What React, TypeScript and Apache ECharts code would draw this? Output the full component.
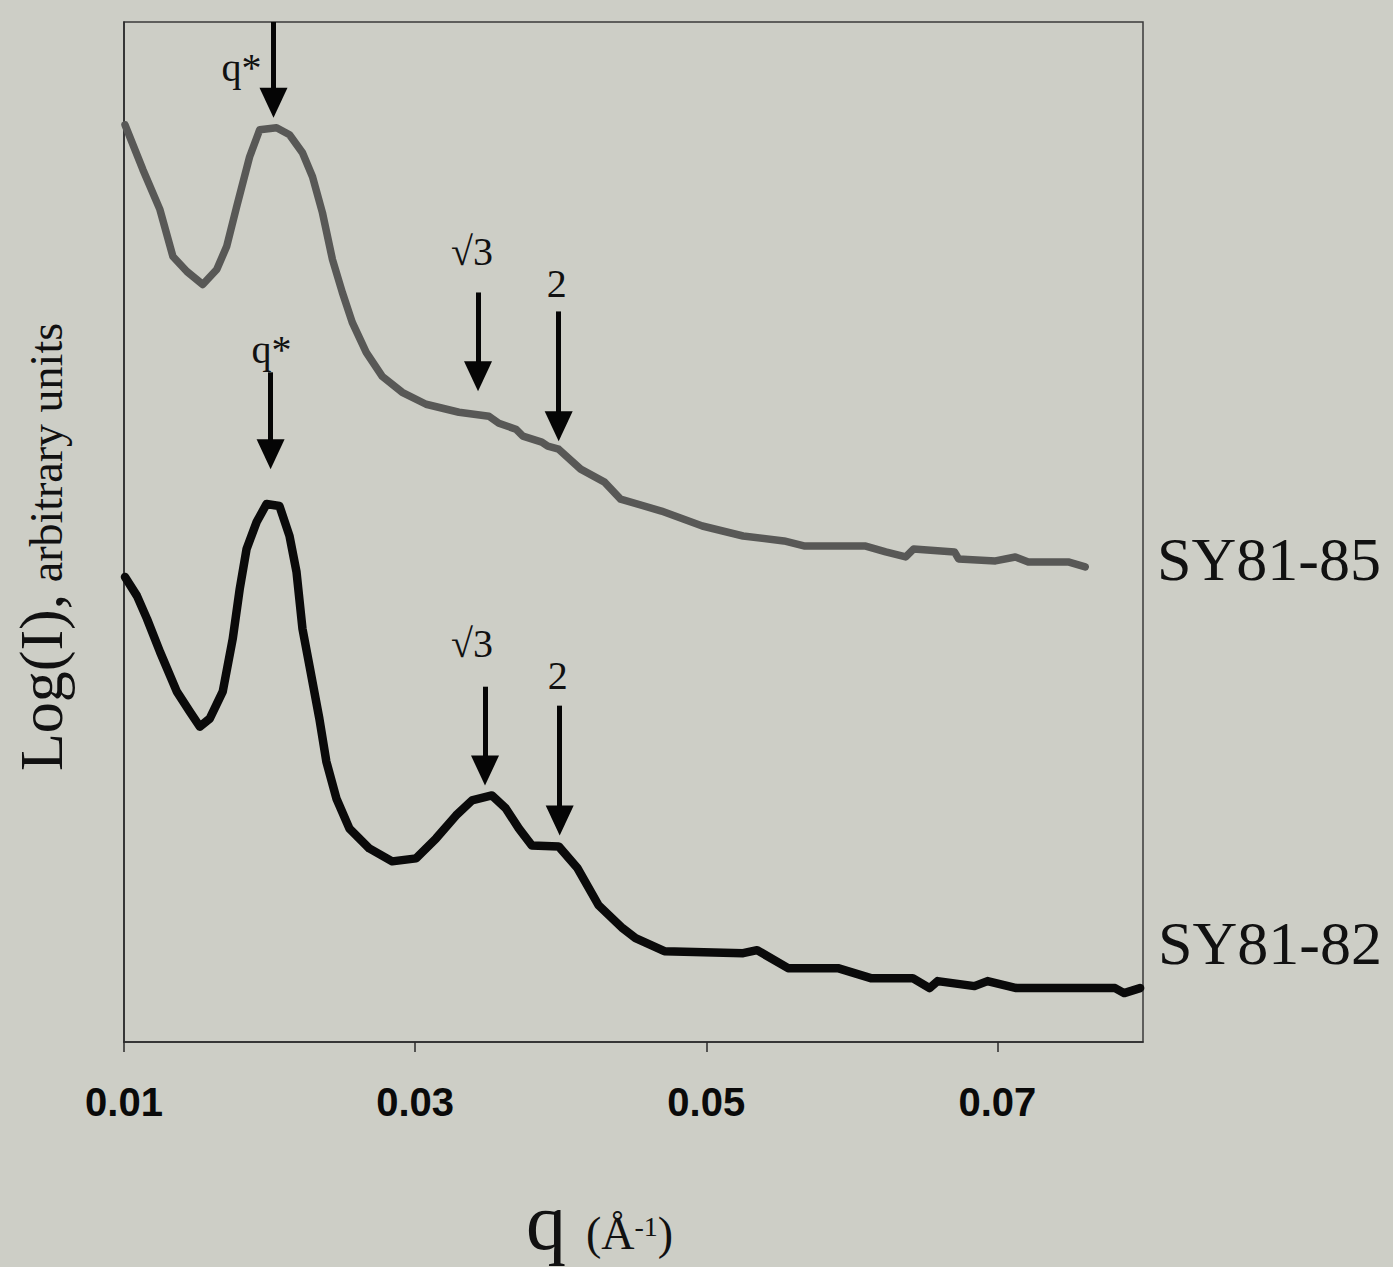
import React, { useEffect, useRef } from "react";
import * as echarts from "echarts";

// ---------- data (q in 1/Å, intensity in arbitrary log units) ----------
const qTickLabels = ["0.01", "0.03", "0.05", "0.07"];

const sy8185Q = [0.01007, 0.0113, 0.01247, 0.01336, 0.01432, 0.01541, 0.01637, 0.01705, 0.01774, 0.01863, 0.01932, 0.02048, 0.02137, 0.02226, 0.02295, 0.02363, 0.02432, 0.025, 0.02568, 0.02664, 0.02774, 0.02911, 0.03075, 0.03301, 0.03507, 0.03575, 0.03692, 0.0374, 0.0387, 0.03911, 0.03986, 0.04137, 0.04301, 0.04411, 0.04692, 0.04973, 0.05253, 0.05534, 0.05671, 0.06089, 0.06233, 0.0637, 0.06425, 0.06705, 0.06733, 0.06986, 0.07123, 0.07212, 0.07486, 0.07603];
const sy8185I = [91.9, 87.4, 83.4, 78.7, 77.2, 75.9, 77.4, 79.7, 83.7, 88.7, 91.4, 91.6, 90.9, 89.1, 86.7, 83.1, 78.4, 75.1, 72.1, 69.1, 66.7, 65.1, 63.9, 63.1, 62.7, 62.0, 61.4, 60.7, 60.1, 59.7, 59.4, 57.4, 56.1, 54.4, 53.2, 51.7, 50.7, 50.2, 49.7, 49.7, 49.1, 48.6, 49.4, 49.1, 48.4, 48.2, 48.6, 48.1, 48.1, 47.6];

const sy8182Q = [0.01007, 0.01089, 0.01158, 0.01247, 0.01363, 0.01452, 0.01521, 0.01589, 0.01678, 0.01747, 0.01795, 0.01842, 0.01911, 0.01979, 0.02068, 0.02137, 0.02185, 0.02226, 0.02274, 0.02342, 0.0239, 0.02459, 0.02548, 0.02685, 0.02842, 0.03007, 0.03144, 0.03281, 0.0339, 0.03527, 0.03623, 0.03712, 0.03801, 0.03986, 0.04116, 0.0426, 0.04425, 0.04514, 0.04712, 0.05253, 0.05349, 0.05562, 0.05904, 0.0613, 0.06418, 0.06534, 0.06589, 0.06842, 0.06932, 0.0713, 0.07808, 0.0787, 0.0798];
const sy8182I = [46.6, 44.7, 42.4, 39.1, 35.1, 33.1, 31.6, 32.4, 35.1, 40.4, 45.4, 49.4, 52.1, 53.9, 53.7, 50.7, 47.1, 41.4, 37.7, 32.4, 28.1, 24.4, 21.4, 19.4, 18.1, 18.4, 20.4, 22.7, 24.2, 24.7, 23.4, 21.4, 19.7, 19.6, 17.4, 13.7, 11.4, 10.4, 9.1, 8.9, 9.2, 7.4, 7.4, 6.4, 6.4, 5.4, 6.1, 5.6, 6.1, 5.4, 5.4, 4.9, 5.4];

// peak-marker arrows
const peakLabels = ["q*", "√3", "2"];
const arrow85Q = [0.02027, 0.03432, 0.03986];
const arrow85Top = [102.2, 75.1, 73.2];
const arrow85Tip = [94.1, 66.7, 61.7];
const label85Q = [0.01808, 0.0339, 0.03973];
const label85I = [97.6, 79.2, 76.0];

const arrow82Q = [0.02007, 0.0348, 0.03993];
const arrow82Top = [67.1, 35.6, 33.7];
const arrow82Tip = [58.9, 27.2, 22.2];
const label82Q = [0.02014, 0.0339, 0.03979];
const label82I = [69.4, 39.9, 36.7];

const seriesNames = ["SY81-85", "SY81-82"];

// axis is offset so ticks fall on odd hundredths
const Q0 = 0.01;
const sh = (q: number) => +(q - Q0).toFixed(6);

const BG = "#cdcec6";
const SERIF = "'Liberation Serif', 'Times New Roman', serif";

function arrows(qs: number[], tops: number[], tips: number[]) {
  return qs.map((q, i) => [
    { coord: [sh(q), tops[i]], symbol: "none" },
    {
      coord: [sh(q), tips[i]],
      symbol: "triangle",
      symbolSize: [28, 30],
      itemStyle: { color: "#050505" },
    },
  ]);
}

function labels(qs: number[], is: number[]) {
  return qs.map((q, i) => ({ coord: [sh(q), is[i]], name: peakLabels[i] }));
}

const markLineCommon = {
  silent: true,
  animation: false,
  label: { show: false },
  lineStyle: { color: "#050505", width: 5, type: "solid" },
  itemStyle: { color: "#050505" },
};

const markPointCommon = {
  silent: true,
  animation: false,
  symbol: "circle",
  symbolSize: 1,
  itemStyle: { color: "rgba(0,0,0,0)" },
  label: {
    show: true,
    position: "inside",
    formatter: (p: any) => p.name,
    color: "#111",
    fontSize: 40,
    fontFamily: SERIF,
  },
};

export default function App() {
  const ref = useRef<HTMLDivElement>(null);

  useEffect(() => {
    document.body.style.margin = "0";
    document.body.style.background = BG;
    const chart = echarts.init(ref.current!, null, { renderer: "svg" });
    chart.setOption({
      animation: false,
      backgroundColor: BG,
      grid: {
        left: 124,
        right: 250,
        top: 22,
        bottom: 223,
        show: true,
        borderColor: "#3a3a3a",
        borderWidth: 1.5,
        backgroundColor: "transparent",
      },
      xAxis: {
        type: "value",
        min: 0,
        max: 0.07,
        interval: 0.02,
        splitLine: { show: false },
        axisLine: { show: true, lineStyle: { color: "#2a2a2a", width: 1.5 } },
        axisTick: { show: true, length: 10, lineStyle: { color: "#2a2a2a", width: 1.5 } },
        axisLabel: {
          margin: 40,
          showMaxLabel: false,
          color: "#0a0a0a",
          fontSize: 40,
          fontWeight: "bold",
          fontFamily: "'Liberation Sans Narrow', 'Arial Narrow', 'Liberation Sans', sans-serif",
          formatter: (v: number) => {
            const s = (v + Q0).toFixed(2);
            return qTickLabels.includes(s) ? s : "";
          },
        },
        name: "{q|q}{g|  }{p|(Å}{s|-1}{p|)}",
        nameLocation: "middle",
        nameGap: 140,
        nameTextStyle: {
          padding: [0, 68, 0, 0],
          rich: {
            q: { fontSize: 80, fontFamily: SERIF, color: "#111", verticalAlign: "bottom", lineHeight: 80 },
            g: { fontSize: 40, fontFamily: SERIF, color: "#111", verticalAlign: "bottom" },
            p: { fontSize: 46, fontFamily: SERIF, color: "#111", verticalAlign: "bottom", padding: [0, 0, 6, 0] },
            s: { fontSize: 28, fontFamily: SERIF, color: "#111", verticalAlign: "bottom", padding: [0, 0, 22, 0] },
          },
        },
      },
      yAxis: {
        type: "value",
        min: 0,
        max: 102.2,
        splitLine: { show: false },
        axisLine: { show: true, lineStyle: { color: "#2a2a2a", width: 1.5 } },
        axisTick: { show: false },
        axisLabel: { show: false },
        name: "{L|Log(I),}{a| arbitrary units}",
        nameLocation: "middle",
        nameRotate: 90,
        nameGap: 52,
        nameTextStyle: {
          padding: [0, 30, 0, 0],
          rich: {
            L: { fontSize: 62, fontFamily: SERIF, color: "#111", verticalAlign: "bottom", lineHeight: 74 },
            a: { fontSize: 46, fontFamily: SERIF, color: "#111", verticalAlign: "bottom", padding: [0, 0, 3, 0] },
          },
        },
      },
      series: [
        {
          name: seriesNames[0],
          type: "line",
          clip: false,
          showSymbol: false,
          symbol: "none",
          data: sy8185Q.map((q, i) => [sh(q), sy8185I[i]]),
          lineStyle: { color: "#585856", width: 7.5, join: "round", cap: "round" },
          itemStyle: { color: "#585856" },
          markLine: { ...markLineCommon, data: arrows(arrow85Q, arrow85Top, arrow85Tip) },
          markPoint: { ...markPointCommon, data: labels(label85Q, label85I) },
        },
        {
          name: seriesNames[1],
          type: "line",
          clip: false,
          showSymbol: false,
          symbol: "none",
          data: sy8182Q.map((q, i) => [sh(q), sy8182I[i]]),
          lineStyle: { color: "#0a0a0a", width: 8.5, join: "round", cap: "round" },
          itemStyle: { color: "#0a0a0a" },
          markLine: { ...markLineCommon, data: arrows(arrow82Q, arrow82Top, arrow82Tip) },
          markPoint: { ...markPointCommon, data: labels(label82Q, label82I) },
        },
      ],
      graphic: [
        {
          type: "text",
          left: 1157,
          top: 528,
          style: { text: seriesNames[0], fontSize: 62, fontFamily: SERIF, fill: "#111" },
        },
        {
          type: "text",
          left: 1158,
          top: 912,
          style: { text: seriesNames[1], fontSize: 62, fontFamily: SERIF, fill: "#111" },
        },
      ],
    });
    return () => chart.dispose();
  }, []);

  return (
    <div style={{ position: "fixed", left: 0, top: 0, width: 1393, height: 1267, background: BG }}>
      <div ref={ref} style={{ width: 1393, height: 1267 }} />
    </div>
  );
}
